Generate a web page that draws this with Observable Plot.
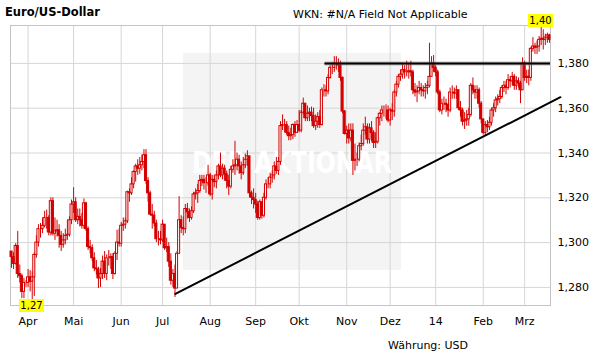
<!DOCTYPE html>
<html><head><meta charset="utf-8">
<script src="https://cdn.jsdelivr.net/npm/d3@7"></script>
<script src="https://cdn.jsdelivr.net/npm/@observablehq/plot@0.6"></script>
<style>
html,body{margin:0;padding:0;background:#fff;}
#wrap{position:relative;width:611px;height:364px;overflow:hidden;font-family:"DejaVu Sans",Verdana,sans-serif;}
#chart{position:absolute;left:0;top:0;}
#chart svg{display:block;}
.t{position:absolute;white-space:nowrap;color:#000;line-height:13px;}
</style></head><body>
<div id="wrap">
<div id="chart"></div>
<div class="t" style="left:5px;top:6px;font-weight:bold;font-size:11.5px;">Euro/US-Dollar</div>
<div class="t" style="left:293px;top:8px;font-size:11px;">WKN: #N/A Field Not Applicable</div>
<div class="t" style="left:388px;top:339px;font-size:11px;">Währung: USD</div>
</div>
<script>
// ---- data (EUR/USD daily bars, one per weekday starting 2013-03-20) ----
const startDate = "2013-03-20";
const monthNames = ["14","Feb","Mrz","Apr","Mai","Jun","Jul","Aug","Sep","Okt","Nov","Dez"];
const yTicks = [1.28, 1.30, 1.32, 1.34, 1.36, 1.38];
const firstOpen = 1.2960;
const close = [
1.2935,1.2905,1.2985,1.2860,1.2850,1.2780,1.2820,1.2820,1.2845,1.2825,
1.2845,1.2945,1.3000,1.3060,1.3060,1.3075,1.3110,1.3110,1.3045,1.3185,
1.3040,1.3050,1.3055,1.3030,1.2990,1.3010,1.3030,1.3035,1.3100,1.3170,
1.3180,1.3100,1.3115,1.3100,1.3075,1.3175,1.3060,1.2980,1.2975,1.2930,
1.2885,1.2880,1.2840,1.2860,1.2915,1.2860,1.2930,1.2930,1.2935,1.2860,
1.2950,1.3000,1.2995,1.3075,1.3080,1.3095,1.3225,1.3220,1.3260,1.3315,
1.3340,1.3330,1.3345,1.3360,1.3390,1.3275,1.3220,1.3125,1.3120,1.3085,
1.3015,1.3015,1.3010,1.3080,1.2975,1.2980,1.2915,1.2830,1.2860,1.2795,
1.2950,1.3100,1.3065,1.3060,1.3150,1.3135,1.3110,1.3140,1.3215,1.3220,
1.3230,1.3275,1.3280,1.3265,1.3265,1.3300,1.3215,1.3280,1.3270,1.3300,
1.3340,1.3300,1.3330,1.3305,1.3275,1.3250,1.3325,1.3340,1.3345,1.3370,
1.3340,1.3310,1.3345,1.3370,1.3385,1.3220,1.3200,1.3190,1.3170,1.3110,
1.3180,1.3120,1.3200,1.3260,1.3260,1.3290,1.3300,1.3340,1.3320,1.3360,
1.3520,1.3525,1.3525,1.3490,1.3475,1.3480,1.3525,1.3490,1.3525,1.3500,
1.3580,1.3620,1.3555,1.3575,1.3580,1.3565,1.3520,1.3540,1.3560,1.3525,
1.3680,1.3680,1.3675,1.3735,1.3780,1.3780,1.3800,1.3800,1.3790,1.3735,
1.3585,1.3485,1.3500,1.3465,1.3500,1.3365,1.3370,1.3370,1.3430,1.3440,
1.3500,1.3515,1.3460,1.3510,1.3490,1.3445,1.3450,1.3555,1.3575,1.3590,
1.3590,1.3590,1.3545,1.3590,1.3585,1.3670,1.3705,1.3740,1.3750,1.3770,
1.3760,1.3760,1.3765,1.3760,1.3680,1.3670,1.3675,1.3690,1.3680,1.3675,
1.3690,1.3700,1.3740,1.3800,1.3780,1.3760,1.3670,1.3590,1.3620,1.3620,
1.3615,1.3590,1.3670,1.3670,1.3665,1.3680,1.3600,1.3590,1.3540,1.3545,
1.3550,1.3570,1.3700,1.3680,1.3670,1.3680,1.3620,1.3550,1.3490,1.3525,
1.3515,1.3535,1.3590,1.3600,1.3635,1.3640,1.3650,1.3690,1.3700,1.3690,
1.3725,1.3720,1.3740,1.3700,1.3720,1.3710,1.3680,1.3800,1.3735,1.3740,
1.3735,1.3865,1.3875,1.3870,1.3875,1.3905,1.3910,1.3905,1.3915,1.3925,
1.3905];
const high = [
1.2960,1.2955,1.2995,1.3050,1.2900,1.2860,1.2840,1.2830,1.2880,1.2875,
1.2870,1.2955,1.3030,1.3080,1.3085,1.3110,1.3140,1.3145,1.3120,1.3200,
1.3200,1.3110,1.3100,1.3080,1.3050,1.3040,1.3060,1.3100,1.3115,1.3190,
1.3245,1.3200,1.3150,1.3150,1.3130,1.3195,1.3180,1.3070,1.3010,1.2990,
1.2955,1.2920,1.2890,1.2885,1.2940,1.2960,1.2945,1.2965,1.2950,1.2950,
1.2960,1.3055,1.3060,1.3090,1.3110,1.3110,1.3230,1.3240,1.3290,1.3320,
1.3350,1.3370,1.3380,1.3390,1.3415,1.3415,1.3290,1.3230,1.3170,1.3140,
1.3100,1.3050,1.3050,1.3100,1.3080,1.3020,1.3000,1.2950,1.2880,1.2900,
1.2960,1.3205,1.3120,1.3115,1.3170,1.3175,1.3150,1.3160,1.3225,1.3240,
1.3260,1.3300,1.3300,1.3300,1.3290,1.3345,1.3310,1.3300,1.3300,1.3320,
1.3350,1.3400,1.3350,1.3345,1.3320,1.3300,1.3340,1.3370,1.3452,1.3400,
1.3390,1.3360,1.3380,1.3395,1.3410,1.3360,1.3230,1.3240,1.3220,1.3185,
1.3190,1.3180,1.3220,1.3280,1.3290,1.3310,1.3320,1.3360,1.3380,1.3380,
1.3540,1.3570,1.3550,1.3540,1.3520,1.3510,1.3530,1.3540,1.3545,1.3590,
1.3590,1.3645,1.3620,1.3610,1.3600,1.3605,1.3600,1.3570,1.3580,1.3590,
1.3690,1.3705,1.3700,1.3750,1.3790,1.3800,1.3830,1.3830,1.3820,1.3810,
1.3740,1.3590,1.3520,1.3530,1.3530,1.3530,1.3440,1.3400,1.3445,1.3480,
1.3530,1.3560,1.3530,1.3530,1.3540,1.3500,1.3490,1.3560,1.3580,1.3610,
1.3610,1.3615,1.3610,1.3600,1.3620,1.3680,1.3720,1.3750,1.3770,1.3800,
1.3790,1.3810,1.3800,1.3810,1.3770,1.3710,1.3700,1.3720,1.3710,1.3700,
1.3710,1.3720,1.3890,1.3830,1.3835,1.3790,1.3770,1.3680,1.3640,1.3650,
1.3640,1.3620,1.3690,1.3700,1.3690,1.3700,1.3680,1.3630,1.3600,1.3580,
1.3590,1.3600,1.3710,1.3735,1.3700,1.3700,1.3690,1.3630,1.3550,1.3540,
1.3545,1.3560,1.3600,1.3620,1.3650,1.3660,1.3680,1.3700,1.3720,1.3720,
1.3750,1.3740,1.3760,1.3750,1.3740,1.3735,1.3720,1.3825,1.3810,1.3770,
1.3770,1.3870,1.3915,1.3890,1.3900,1.3920,1.3960,1.3950,1.3930,1.3935,
1.3930];
const low = [
1.2885,1.2880,1.2900,1.2840,1.2820,1.2750,1.2750,1.2800,1.2800,1.2780,
1.2745,1.2760,1.2930,1.2980,1.3020,1.3040,1.3065,1.3060,1.3030,1.3030,
1.3030,1.3010,1.3025,1.2975,1.2960,1.2975,1.2990,1.3010,1.3025,1.3080,
1.3130,1.3090,1.3080,1.3070,1.3060,1.3060,1.3050,1.2965,1.2950,1.2915,
1.2870,1.2855,1.2795,1.2800,1.2835,1.2840,1.2830,1.2895,1.2880,1.2835,
1.2855,1.2920,1.2980,1.2980,1.3050,1.3060,1.3085,1.3180,1.3210,1.3240,
1.3270,1.3300,1.3305,1.3320,1.3330,1.3260,1.3180,1.3120,1.3060,1.3070,
1.3000,1.2985,1.2990,1.3000,1.2965,1.2955,1.2890,1.2810,1.2800,1.2755,
1.2800,1.2950,1.3040,1.3030,1.3040,1.3105,1.3090,1.3100,1.3130,1.3190,
1.3175,1.3220,1.3250,1.3235,1.3220,1.3250,1.3205,1.3190,1.3245,1.3240,
1.3280,1.3290,1.3280,1.3275,1.3240,1.3210,1.3240,1.3310,1.3300,1.3320,
1.3305,1.3280,1.3300,1.3330,1.3340,1.3200,1.3170,1.3150,1.3130,1.3100,
1.3100,1.3105,1.3110,1.3190,1.3240,1.3240,1.3265,1.3280,1.3305,1.3300,
1.3345,1.3500,1.3490,1.3480,1.3455,1.3455,1.3460,1.3470,1.3490,1.3490,
1.3490,1.3570,1.3540,1.3540,1.3540,1.3540,1.3510,1.3500,1.3510,1.3510,
1.3520,1.3650,1.3650,1.3660,1.3730,1.3750,1.3760,1.3770,1.3760,1.3720,
1.3575,1.3480,1.3440,1.3440,1.3450,1.3300,1.3320,1.3340,1.3360,1.3410,
1.3430,1.3480,1.3440,1.3440,1.3450,1.3420,1.3420,1.3440,1.3520,1.3540,
1.3560,1.3550,1.3535,1.3520,1.3545,1.3560,1.3650,1.3690,1.3720,1.3730,
1.3730,1.3740,1.3730,1.3740,1.3660,1.3650,1.3625,1.3660,1.3650,1.3650,
1.3640,1.3660,1.3690,1.3740,1.3760,1.3740,1.3660,1.3580,1.3570,1.3590,
1.3580,1.3560,1.3580,1.3640,1.3640,1.3640,1.3590,1.3560,1.3520,1.3505,
1.3520,1.3520,1.3560,1.3660,1.3640,1.3640,1.3600,1.3530,1.3480,1.3475,
1.3490,1.3500,1.3520,1.3560,1.3580,1.3610,1.3620,1.3640,1.3670,1.3660,
1.3680,1.3690,1.3700,1.3680,1.3680,1.3690,1.3620,1.3680,1.3720,1.3710,
1.3700,1.3720,1.3850,1.3840,1.3840,1.3850,1.3880,1.3860,1.3880,1.3890,
1.3890];
// resistance line (level and starting bar) and rising trend line (bar, value)
const resistanceLevel = 1.380;
const resistanceStart = 151.5;
const trendBars = [79.2, 265.3];
const trendValues = [1.2771, 1.3649];

// ---- build ----
const N = close.length;
const dates = [];
{ const d = new Date(startDate + "T00:00:00Z");
  while (dates.length < N) { const wd = d.getUTCDay(); if (wd !== 0 && wd !== 6) dates.push(new Date(d)); d.setUTCDate(d.getUTCDate() + 1); } }
const monthTicks = [];
for (let i = 1; i < N; i++) if (dates[i].getUTCMonth() !== dates[i-1].getUTCMonth()) monthTicks.push(i);
const tickLabel = i => monthNames[dates[i].getUTCMonth()];

const bars = close.map((c, i) => {
  const o = i ? close[i-1] : firstOpen;
  return {i, open: o, close: c, hi: Math.max(high[i], o, c), lo: Math.min(low[i], o, c)};
});
const up = bars.filter(d => d.close >= d.open);
const down = bars.filter(d => d.close < d.open);
const trend = trendBars.map((b, k) => ({i: b, v: trendValues[k]}));
const resistance = [{v: resistanceLevel, a: resistanceStart, b: N - 0.5}];

const loc = d3.formatLocale({decimal: ",", thousands: ".", grouping: [3], currency: ["", ""]});
const f3 = loc.format(".3f"), f2 = loc.format(".2f");
const RED = "#d40000", GRID = "#d6d6d6";

let minI = 0, maxI = 0;
bars.forEach((d, k) => { if (d.lo < bars[minI].lo) minI = k; if (d.hi > bars[maxI].hi) maxI = k; });

const xDomain = [-0.5, N - 0.5];
const yDomain = [1.27192, 1.39692];

function watermarkBox() {
  const g = d3.create("svg:g");
  g.append("rect").attr("x", 183).attr("y", 53).attr("width", 218).attr("height", 217).attr("fill", "#f4f4f4");
  return g.node();
}
function watermarkText() {
  const g = d3.create("svg:g");
  g.append("text").attr("x", 192).attr("y", 173).attr("fill", "#ffffff").attr("text-anchor", "start")
    .attr("font-family", "DejaVu Sans Condensed, DejaVu Sans").attr("font-weight", "bold").attr("font-size", 31)
    .attr("textLength", 200).attr("lengthAdjust", "spacingAndGlyphs").text("DER AKTIONÄR");
  return g.node();
}
function extremeLabels(index, scales) {
  const sx = scales && typeof scales.x === "function" ? scales.x : d3.scaleLinear(xDomain, [10, 550]);
  const sy = scales && typeof scales.y === "function" ? scales.y : d3.scaleLinear(yDomain, [305, 25]);
  const g = d3.create("svg:g").attr("font-family", "DejaVu Sans").attr("font-size", 10);
  const put = (i, v, above) => {
    const x = sx(i), y = sy(v), w = 25, h = 13;
    const top = above ? y - h : y;
    g.append("rect").attr("x", Math.round(x - w / 2)).attr("y", Math.round(top)).attr("width", w).attr("height", h).attr("fill", "#ffff00");
    g.append("text").attr("x", Math.round(x - w / 2) + w / 2).attr("y", top + h / 2).attr("dy", "0.36em").attr("text-anchor", "middle").attr("fill", "#000").text(f2(v));
  };
  put(bars[minI].i, bars[minI].lo, false);
  put(bars[maxI].i, bars[maxI].hi, true);
  return g.node();
}

const chart = Plot.plot({
  width: 611, height: 364,
  marginTop: 25, marginBottom: 59, marginLeft: 10, marginRight: 61,
  style: {fontFamily: "DejaVu Sans", fontSize: "11px", color: "#000", background: "transparent", overflow: "visible"},
  x: {domain: xDomain, axis: "bottom", ticks: monthTicks, tickFormat: tickLabel, tickSize: 0, tickPadding: 12, label: null},
  y: {domain: yDomain, axis: "right", ticks: yTicks, tickFormat: f3, tickSize: 0, tickPadding: 7, label: null},
  marks: [
    watermarkBox,
    Plot.ruleX(monthTicks, {stroke: GRID, strokeWidth: 1}),
    Plot.ruleY(yTicks, {stroke: GRID, strokeWidth: 1}),
    watermarkText,
    Plot.frame({stroke: "#c4c4c4"}),
    Plot.ruleX(bars, {x: "i", y1: "lo", y2: "hi", stroke: RED, strokeWidth: 1}),
    Plot.rect(up, {x1: d => d.i - 0.5, x2: d => d.i + 0.5, y1: "open", y2: "close", fill: "#ffffff", stroke: RED, strokeWidth: 1}),
    Plot.rect(down, {x1: d => d.i - 0.5, x2: d => d.i + 0.5, y1: "open", y2: "close", fill: RED, stroke: RED, strokeWidth: 1}),
    Plot.ruleY(resistance, {y: "v", x1: "a", x2: "b", stroke: "#777", strokeOpacity: 0.5, strokeWidth: 4}),
    Plot.ruleY(resistance, {y: "v", x1: "a", x2: "b", stroke: "#000", strokeWidth: 2}),
    Plot.line(trend, {x: "i", y: "v", stroke: "#000", strokeWidth: 2}),
    extremeLabels
  ]
});
document.getElementById("chart").appendChild(chart);
</script>
</body></html>
